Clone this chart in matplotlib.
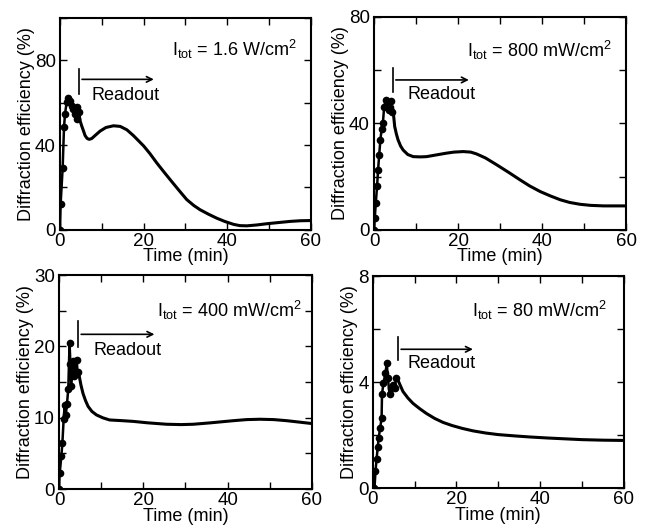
import numpy as np
import matplotlib
matplotlib.use("Agg")
import matplotlib.pyplot as plt

plt.rcParams['font.family'] = ['Liberation Sans', 'DejaVu Sans']
plt.rcParams['mathtext.fontset'] = 'custom'
plt.rcParams['mathtext.rm'] = 'Liberation Sans'
plt.rcParams['mathtext.it'] = 'Liberation Sans:italic'

# panel (a): 1.6 W/cm2
write_t1 = [0, 0.16, 0.64, 0.96, 1.2, 1.6, 2.0, 2.4, 2.8, 3.2, 3.6, 4.0, 4.15, 4.5]
write_y1 = [0, 12.4, 29.3, 48.3, 54.7, 60.2, 62.1, 61.0, 58.6, 57.0, 54.7, 52.3, 57.8, 55.5]
read_t1 = [4.5, 4.8, 5.2, 5.6, 6.0, 6.5, 7.0, 7.6, 8.5, 9.6, 11.0, 12.8, 14.4, 16.0, 17.6,
           20.0, 21.5, 23.1, 24.7, 26.3, 28.3, 30.3, 32.0, 33.5, 35.5, 37.5, 39.5, 41.5,
           43.0, 44.7, 47.0, 49.5, 52.0, 55.1, 57.5, 60.0]
read_y1 = [55.5, 51.5, 49.0, 46.8, 44.5, 43.1, 42.7, 43.1, 44.7, 46.6, 48.3, 49.1, 48.8, 47.2, 44.4,
           39.6, 36.0, 31.7, 27.7, 23.8, 19.0, 14.3, 11.5, 9.5, 7.4, 5.5, 3.9, 2.6,
           2.0, 1.9, 2.3, 2.9, 3.4, 4.0, 4.3, 4.4]

# panel (b): 800 mW/cm2
write_t2 = [0, 0.16, 0.4, 0.7, 0.95, 1.2, 1.5, 1.8, 2.1, 2.4, 2.8, 3.2, 3.6, 4.0, 4.2]
write_y2 = [0, 4.4, 10.0, 16.3, 22.5, 28.0, 33.8, 38.0, 40.3, 46.3, 48.8, 47.5, 45.0, 48.4, 44.4]
read_t2 = [4.2, 4.4, 4.7, 4.9, 5.3, 5.7, 6.3, 6.9, 8.0, 9.3, 11.0, 12.5, 15.0, 17.2, 19.0,
           21.2, 23.0, 24.4, 26.5, 29.2, 32.0, 34.7, 37.0, 39.5, 42.0, 44.3, 46.5, 49.0,
           51.5, 54.6, 60.0]
read_y2 = [44.4, 46.3, 42.0, 38.8, 36.0, 33.8, 31.5, 30.0, 28.3, 27.5, 27.4, 27.5, 28.2, 28.8, 29.2,
           29.4, 29.2, 28.5, 27.0, 24.4, 21.6, 18.8, 16.5, 14.4, 12.7, 11.3, 10.3, 9.6,
           9.2, 9.0, 9.0]

# panel (c): 400 mW/cm2
write_t3 = [0, 0.16, 0.55, 0.8, 1.1, 1.35, 1.6, 1.9, 2.2, 2.5, 2.7, 2.9, 3.4, 3.6, 4.2, 4.4]
write_y3 = [0, 2.2, 4.6, 6.5, 9.8, 11.8, 10.4, 12.0, 14.1, 20.5, 17.6, 14.5, 17.9, 15.9, 18.1, 16.4]
read_t3 = [4.4, 4.75, 5.2, 5.7, 6.3, 6.9, 7.8, 8.9, 10.4, 12.0, 15.0, 17.6, 21.0, 25.5,
           29.0, 31.9, 36.0, 41.4, 44.5, 47.7, 51.0, 54.0, 57.0, 60.0]
read_y3 = [16.4, 16.0, 14.6, 13.4, 12.4, 11.6, 10.9, 10.4, 10.0, 9.7, 9.6, 9.5, 9.3, 9.1,
           9.05, 9.1, 9.3, 9.6, 9.75, 9.8, 9.75, 9.6, 9.4, 9.2]

# panel (d): 80 mW/cm2
write_t4 = [0, 0.4, 0.64, 0.9, 1.2, 1.4, 1.75, 2.1, 2.2, 2.55, 3.0, 3.35, 3.6, 4.0, 4.4, 4.8, 5.2, 5.6]
write_y4 = [0, 0, 0.63, 1.1, 1.57, 1.9, 2.26, 2.64, 3.55, 3.96, 4.33, 4.71, 4.15, 3.55, 3.77, 3.9, 3.77, 4.15]
read_t4 = [5.6, 6.0, 7.2, 8.4, 9.6, 11.2, 12.8, 14.8, 16.8, 19.0, 21.5, 24.0, 27.0, 30.0,
           34.0, 37.6, 42.0, 46.0, 50.0, 55.0, 60.0]
read_y4 = [4.15, 4.08, 3.65, 3.4, 3.2, 3.0, 2.82, 2.63, 2.48, 2.36, 2.25, 2.16, 2.08, 2.02,
           1.97, 1.93, 1.89, 1.86, 1.83, 1.81, 1.8]

labels = [r'I$_{\mathrm{tot}}$ = 1.6 W/cm$^2$', r'I$_{\mathrm{tot}}$ = 800 mW/cm$^2$',
          r'I$_{\mathrm{tot}}$ = 400 mW/cm$^2$', r'I$_{\mathrm{tot}}$ = 80 mW/cm$^2$']
ymax = [100, 80, 30, 8]
yticks = [np.arange(0, 101, 20), np.arange(0, 81, 20), np.arange(0, 31, 5), np.arange(0, 9, 2)]
ylabeled = [[0, 40, 80], [0, 40, 80], [0, 10, 20, 30], [0, 4, 8]]
# readout marker: bar t, bar y range, arrow end t, arrow y, text pos, label pos
readout = [(4.6, 64, 76, 23.1, 71, 7.6, 63.4, 56.7, 85),
           (4.5, 51.9, 60.6, 23.2, 56.3, 7.9, 51, 56.5, 67.5),
           (4.6, 19.9, 23.5, 23.3, 21.7, 8.1, 19.4, 57.6, 25.1),
           (6.1, 4.84, 5.72, 24.6, 5.24, 8.4, 4.71, 55.9, 6.72)]

positions = [[0.093, 0.563, 0.389, 0.403], [0.580, 0.563, 0.391, 0.405],
             [0.0915, 0.070, 0.392, 0.407], [0.578, 0.072, 0.389, 0.403]]

writes = [(write_t1, write_y1), (write_t2, write_y2), (write_t3, write_y3), (write_t4, write_y4)]
reads = [(read_t1, read_y1), (read_t2, read_y2), (read_t3, read_y3), (read_t4, read_y4)]

fig = plt.figure(figsize=(6.45, 5.26), dpi=100)

for i in range(4):
    ax = fig.add_axes(positions[i])
    wt, wy = writes[i]
    rt, ry = reads[i]
    ax.plot(wt, wy, 'o-', color='black', markersize=4.5, linewidth=1.8)
    ax.plot(rt, ry, '-', color='black', linewidth=2.2, solid_joinstyle='round')
    ax.set_xlim(0, 60)
    ax.set_ylim(0, ymax[i])
    ax.set_xticks(np.arange(0, 61, 10))
    ax.set_xticklabels([str(v) if v % 20 == 0 else '' for v in range(0, 61, 10)])
    ax.set_yticks(yticks[i])
    ax.set_yticklabels([str(v) if v in ylabeled[i] else '' for v in yticks[i]])
    ax.tick_params(direction='in', top=True, right=True, length=5, width=1,
                   labelsize=13.5)
    ax.tick_params(axis='x', pad=2)
    ax.tick_params(axis='y', pad=3)
    for s in ax.spines.values():
        s.set_linewidth(1.5)
    ax.set_xlabel('Time (min)', fontsize=13, labelpad=-1)
    ax.set_ylabel('Diffraction efficiency (%)', fontsize=13, labelpad=0)

    bt, by0, by1, at, ay, tx, ty, lx, ly = readout[i]
    ax.plot([bt, bt], [by0, by1], color='black', linewidth=1.2)
    ax.annotate('', xy=(at, ay), xytext=(bt, ay),
                arrowprops=dict(arrowstyle='->', color='black', lw=1.2))
    ax.text(tx, ty, 'Readout', fontsize=13, ha='left', va='center')
    ax.text(lx, ly, labels[i], fontsize=13, ha='right', va='center')

fig.savefig('out.png', dpi=100)
